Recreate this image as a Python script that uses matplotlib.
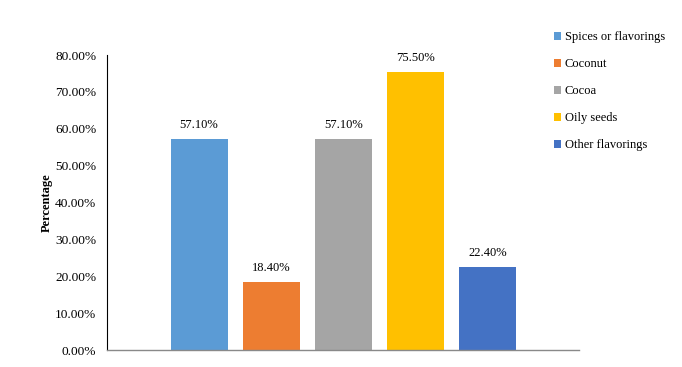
import numpy as np
import matplotlib
matplotlib.use("Agg")
import matplotlib.pyplot as plt
from matplotlib.patches import Patch

plt.rcParams['font.family'] = ['Liberation Serif', 'DejaVu Serif']

categories = ['Spices or flavorings', 'Coconut', 'Cocoa', 'Oily seeds', 'Other flavorings']
values = [57.10, 18.40, 57.10, 75.50, 22.40]
colors = ['#5B9BD5', '#ED7D31', '#A5A5A5', '#FFC000', '#4472C4']
yticks = [0, 10, 20, 30, 40, 50, 60, 70, 80]

fig = plt.figure(figsize=(6.82, 3.67), dpi=100)
ax = fig.add_axes([0.1576, 0.0463, 0.8490 - 0.1576, 0.850 - 0.0463])

x = np.arange(len(values))
bars = ax.bar(x, values, width=0.79, color=colors)

# value labels above the bars
for xi, v in zip(x, values):
    ax.text(xi, v + 2.2, '%.2f%%' % v, ha='center', va='bottom', fontsize=9)

ax.set_xlim(-1.27, 5.27)
ax.set_ylim(0, 80)
ax.set_yticks(yticks)
ax.set_yticklabels(['%.2f%%' % t for t in yticks], fontsize=9.6)
ax.set_xticks([])
ax.tick_params(axis='y', length=0, pad=8)
ax.set_ylabel('Percentage', fontsize=9, fontweight='bold', labelpad=2)

for s in ['top', 'right']:
    ax.spines[s].set_visible(False)
ax.spines['left'].set_color('black')
ax.spines['left'].set_linewidth(0.8)
ax.spines['bottom'].set_color('#898989')
ax.spines['bottom'].set_linewidth(1.0)

handles = [Patch(facecolor=c, edgecolor='none') for c in colors]
fig.legend(handles, categories, loc='upper left', bbox_to_anchor=(548 / 682, 1 - 25 / 367),
           frameon=False, fontsize=9, handlelength=0.55, handleheight=0.55,
           handletextpad=0.3, labelspacing=1.2, borderpad=0)

fig.savefig('out.png', dpi=100)
